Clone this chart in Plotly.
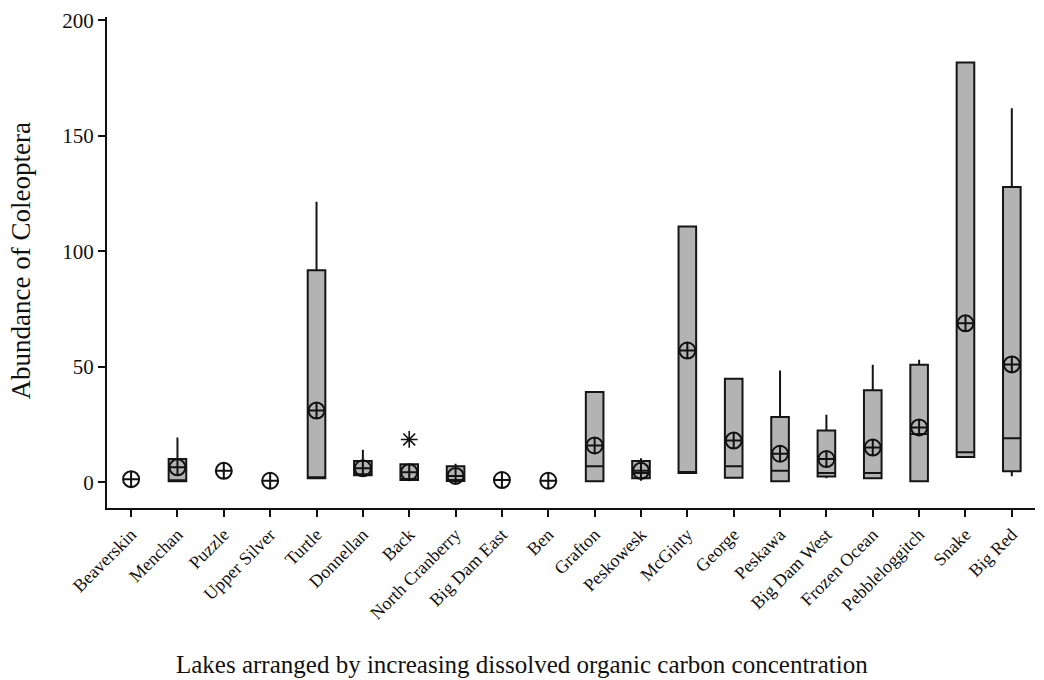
import plotly.graph_objects as go

lakes = ["Beaverskin", "Menchan", "Puzzle", "Upper Silver", "Turtle", "Donnellan", "Back",
         "North Cranberry", "Big Dam East", "Ben", "Grafton", "Peskowesk", "McGinty", "George",
         "Peskawa", "Big Dam West", "Frozen Ocean", "Pebbleloggitch", "Snake", "Big Red"]
mean_vals = [1.3, 6.4, 4.9, 0.6, 31.0, 6.0, 4.3, 2.7, 0.9, 0.6, 15.9, 4.9, 57.0, 18.0,
             12.3, 10.0, 15.0, 23.7, 68.8, 51.0]
q1_vals = [None, 0.4, None, None, 1.7, 3.0, 0.9, 0.5, None, None, 0.4, 1.7, 4.0, 1.9,
           0.4, 2.4, 1.7, 0.4, 10.9, 4.7]
med_vals = [None, 0.4, None, None, 1.7, 3.0, 0.9, 0.5, None, None, 6.9, 4.0, 4.0, 6.9,
            4.9, 4.0, 4.0, 20.9, 13.0, 19.0]
q3_vals = [None, 10.0, None, None, 91.8, 9.2, 7.7, 6.9, None, None, 39.0, 9.2, 110.7, 44.8,
           28.2, 22.4, 39.8, 50.9, 181.8, 127.9]
low_vals = [None, 0.4, None, None, 1.7, 3.0, 0.9, 0.5, None, None, 0.4, 0.6, 4.0, 1.9,
            0.4, 1.7, 1.7, 0.4, 10.9, 2.6]
high_vals = [None, 19.3, None, None, 121.5, 14.0, 7.7, 8.0, None, None, 39.0, 10.3, 110.7, 44.8,
             48.4, 29.2, 50.9, 53.0, 181.8, 162.0]
outlier_lakes = ["Back"]
outlier_vals = [18.5]

idx = [i for i, q in enumerate(q1_vals) if q is not None]

fig = go.Figure()
fig.add_trace(go.Box(
    x=[lakes[i] for i in idx],
    q1=[q1_vals[i] for i in idx],
    median=[med_vals[i] for i in idx],
    q3=[q3_vals[i] for i in idx],
    lowerfence=[low_vals[i] for i in idx],
    upperfence=[high_vals[i] for i in idx],
    fillcolor="#b3b3b3",
    line=dict(color="#151515", width=2),
    whiskerwidth=0,
    width=0.38,
    boxpoints=False,
    showlegend=False,
))
fig.add_trace(go.Scatter(
    x=lakes, y=mean_vals, mode="markers",
    marker=dict(symbol="circle-cross-open", size=16, color="#111111", line=dict(width=2)),
    showlegend=False,
))
fig.add_trace(go.Scatter(
    x=outlier_lakes, y=outlier_vals, mode="markers",
    marker=dict(symbol="asterisk-open", size=14, color="#111111", line=dict(width=1.6, color="#111111")),
    showlegend=False,
))

font_family = "Liberation Serif"
fig.update_layout(
    width=1044, height=680,
    margin=dict(l=107, r=9, t=14, b=172),
    plot_bgcolor="white", paper_bgcolor="white",
    font=dict(family=font_family, size=18, color="#111111"),
    xaxis=dict(
        type="category", categoryorder="array", categoryarray=lakes,
        range=[-0.52, 19.5],
        showline=True, linecolor="#111111", linewidth=2,
        ticks="outside", ticklen=7, tickwidth=1.5, tickcolor="#111111",
        tickangle=-45, tickfont=dict(family=font_family, size=18),
        showgrid=False, zeroline=False,
    ),
    yaxis=dict(
        range=[-11.2, 201.5],
        tickvals=[0, 50, 100, 150, 200],
        showline=True, linecolor="#111111", linewidth=2,
        ticks="outside", ticklen=7, tickwidth=1.5, tickcolor="#111111",
        tickfont=dict(family=font_family, size=21),
        showgrid=False, zeroline=False,
    ),
    annotations=[
        dict(text="Lakes arranged by increasing dissolved organic carbon concentration",
             xref="paper", yref="paper", x=(522 - 107) / 928, y=(508 - 665) / 494, showarrow=False,
             xanchor="center", yanchor="middle",
             font=dict(family=font_family, size=25)),
        dict(text="Abundance of Coleoptera",
             xref="paper", yref="paper", x=(21 - 107) / 928, y=(508 - 260) / 494, showarrow=False,
             xanchor="center", yanchor="middle", textangle=-90,
             font=dict(family=font_family, size=27)),
    ],
)
fig.write_html("out.html")
